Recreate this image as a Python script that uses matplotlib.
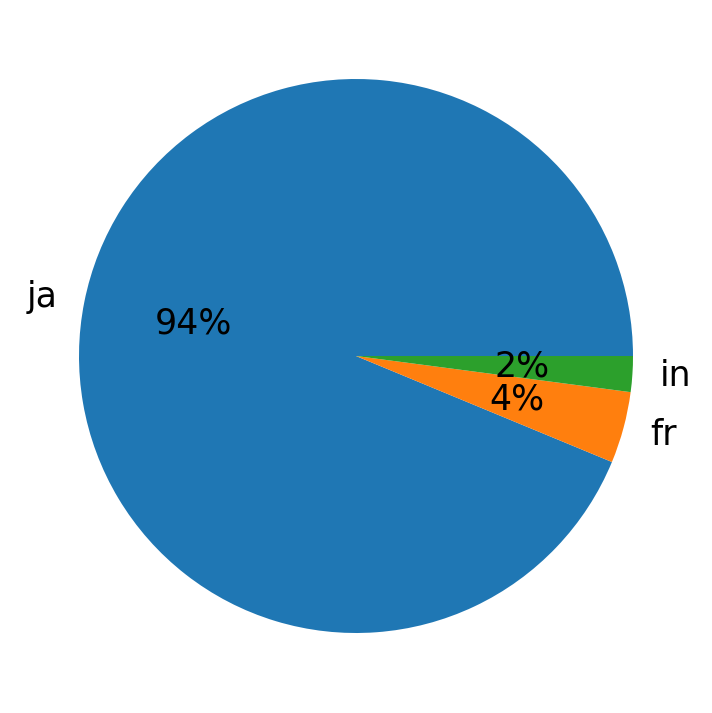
import matplotlib
matplotlib.use("Agg")
import matplotlib.pyplot as plt

# language counts
labels = ["ja", "fr", "in"]
counts = [45, 2, 1]

fig = plt.figure(figsize=(7.12, 7.13), dpi=100)
half = 277 * 1.25
ax = fig.add_axes([(356 - half) / 712, (713 - 356 - half) / 713, 2 * half / 712, 2 * half / 713])
ax.pie(counts, labels=labels, autopct="%1.0f%%", textprops={"fontsize": 25})
ax.set_aspect("equal")
fig.savefig("out.png", dpi=100, facecolor="white")
